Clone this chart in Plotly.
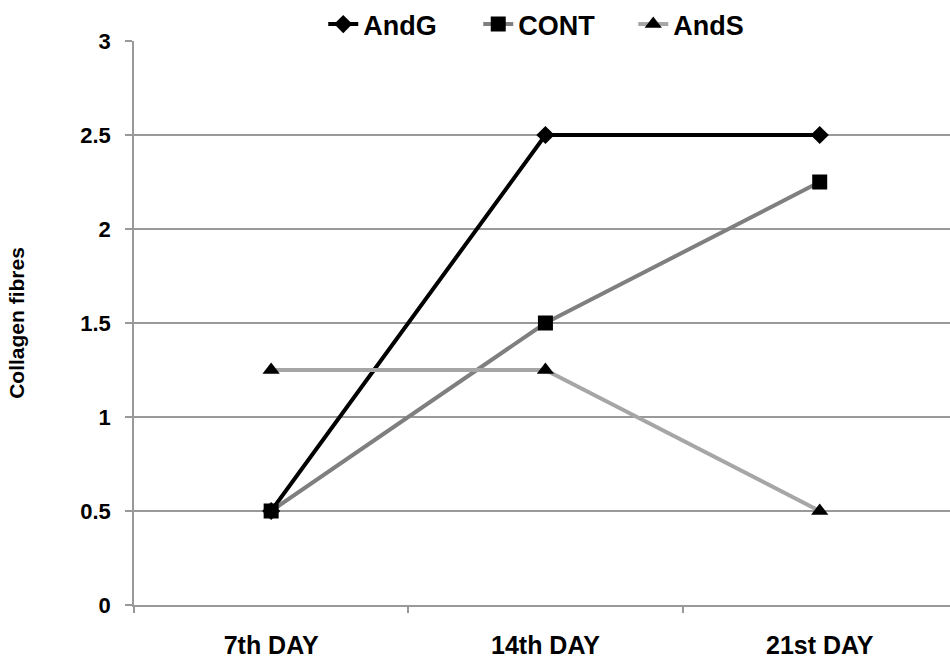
import plotly.graph_objects as go

categories = ["7th DAY", "14th DAY", "21st DAY"]
andg = [0.5, 2.5, 2.5]
cont = [0.5, 1.5, 2.25]
ands = [1.25, 1.25, 0.5]
y_ticks = [0, 0.5, 1, 1.5, 2, 2.5, 3]
y_ticktext = ["0", "0.5", "1", "1.5", "2", "2.5", "3"]

FONT = "Liberation Sans, Arial, sans-serif"

fig = go.Figure()
fig.add_trace(go.Scatter(
    x=categories, y=andg, name="AndG", mode="lines+markers",
    line=dict(color="#000000", width=4),
    marker=dict(symbol="diamond", size=14, color="#000000"),
))
fig.add_trace(go.Scatter(
    x=categories, y=cont, name="CONT", mode="lines+markers",
    line=dict(color="#7f7f7f", width=4),
    marker=dict(symbol="square", size=15, color="#000000"),
))
fig.add_trace(go.Scatter(
    x=categories, y=ands, name="AndS", mode="lines+markers",
    line=dict(color="#a6a6a6", width=4),
    marker=dict(symbol="triangle-up", size=15, color="#000000"),
))

fig.update_layout(
    width=950, height=661,
    margin=dict(l=134, r=0, t=41, b=56, autoexpand=False),
    paper_bgcolor="white", plot_bgcolor="white",
    font=dict(family=FONT, color="#000000"),
    showlegend=True,
    legend=dict(
        orientation="h", xref="container", x=0.585, xanchor="center",
        yref="container", y=1.0, yanchor="top",
        font=dict(size=27, family=FONT, weight="bold"),
        entrywidth=110, entrywidthmode="pixels",
        tracegroupgap=0, bgcolor="rgba(0,0,0,0)",
    ),
    xaxis=dict(
        type="category", range=[-0.5, 2.475], automargin=False,
        showgrid=False, showline=True, linecolor="#999999", linewidth=1.5,
        ticks="outside", tickson="boundaries", ticklen=6, tickcolor="#999999", tickwidth=1.5,
        tickfont=dict(size=25, family=FONT, weight="bold"),
        ticklabelstandoff=17,
    ),
    yaxis=dict(
        range=[0, 3], tickvals=y_ticks, ticktext=y_ticktext, automargin=False,
        showgrid=True, gridcolor="#999999", gridwidth=1.5,
        showline=True, linecolor="#999999", linewidth=1.5,
        ticks="outside", ticklen=7, tickcolor="#999999", tickwidth=1.5,
        tickfont=dict(size=22, family=FONT, weight="bold"),
        ticklabelstandoff=10, zeroline=False,
        title=dict(text="Collagen fibres", font=dict(size=21, family=FONT, weight="bold"), standoff=50),
    ),
)

fig.write_html(
    "out.html",
    config={"displayModeBar": False},
    post_script="document.body.style.margin='0';document.body.style.padding='0';",
)
